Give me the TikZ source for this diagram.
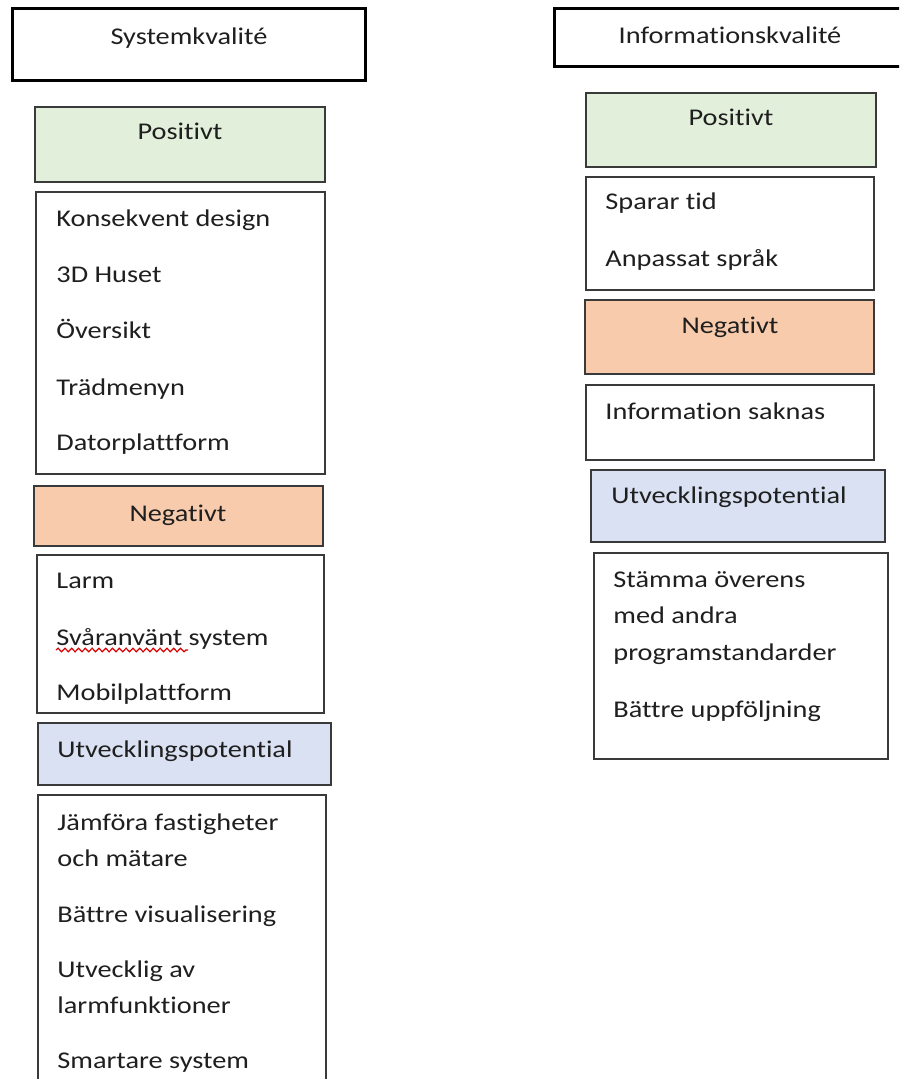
\documentclass[tikz,border=0pt]{standalone}
\usepackage{fontspec}
\setmainfont{Carlito}[FakeStretch=1.18, RawFeature={-liga;-clig;-dlig}]
\usetikzlibrary{decorations.pathmorphing}
\definecolor{txt}{HTML}{1F1F1F}
\definecolor{edge}{HTML}{3A3A3A}
\definecolor{posfill}{HTML}{E2EFDA}
\definecolor{negfill}{HTML}{F8CBAD}
\definecolor{devfill}{HTML}{D9E1F2}
\tikzset{
  titlebox/.style={draw=black, line width=1.5pt},
  listbox/.style={draw=edge, line width=0.75pt, fill=white},
  posbox/.style={draw=edge, line width=0.75pt, fill=posfill},
  negbox/.style={draw=edge, line width=0.75pt, fill=negfill},
  devbox/.style={draw=edge, line width=0.75pt, fill=devfill},
  item/.style={anchor=base west, inner sep=0pt, text=txt, font=\fontsize{12pt}{14pt}\selectfont},
  head/.style={anchor=base, inner sep=0pt, text=txt, font=\fontsize{12pt}{14pt}\selectfont},
  spell/.style={draw=red!85!black, line width=0.6pt, decorate,
    decoration={snake, amplitude=0.9pt, segment length=3.4pt}}
}
\begin{document}
\begin{tikzpicture}[x=0.5pt, y=-0.5pt]
\clip (0,0) rectangle (899,1079);
\fill[white] (0,0) rectangle (899,1079);

% ---------- Systemkvalité ----------
\draw[titlebox] (12,9) rectangle (365,81);
\node[head] (sysT) at (189,45) {Systemkvalité};

\draw[posbox] (35,107) rectangle (325,182);
\node[head] (sysPos) at (180,140) {Positivt};

\draw[listbox] (36,192) rectangle (325,474);
\node[item] (s1) at (56,227) {Konsekvent design};
\node[item] (s2) at (56,283) {3D Huset};
\node[item] (s3) at (56,339) {Översikt};
\node[item] (s4) at (56,395) {Trädmenyn};
\node[item] (s5) at (56,450) {Datorplattform};

\draw[negbox] (34,486) rectangle (323,546);
\node[head] (sysNeg) at (178,521) {Negativt};

\draw[listbox] (37,555) rectangle (324,713);
\node[item] (s6) at (56,588) {Larm};
\node[item] (s7) at (56,645) {Svåranvänt system};
\node[item] (s8) at (56,700) {Mobilplattform};
\coordinate (sqA) at (56,650);
\coordinate (sqB) at (188,650);
\draw[spell] (sqA) -- (sqB);

\draw[devbox] (38,723) rectangle (331,785);
\node[item] (sysDev) at (57,757) {Utvecklingspotential};

\draw[listbox] (38,795) rectangle (326,1100);
\node[item] (s9) at (57,830) {Jämföra fastigheter};
\node[item] (s10) at (57,866) {och mätare};
\node[item] (s11) at (57,922) {Bättre visualisering};
\node[item] (s12) at (57,977) {Utvecklig av};
\node[item] (s13) at (57,1013) {larmfunktioner};
\node[item] (s14) at (57,1068) {Smartare system};

% ---------- Informationskvalité ----------
\draw[titlebox] (554,9) rectangle (910,67);
\node[head] (infT) at (730,44) {Informationskvalité};

\draw[posbox] (586,93) rectangle (876,167);
\node[head] (infPos) at (731,126) {Positivt};

\draw[listbox] (586,177) rectangle (874,290);
\node[item] (i1) at (605,210) {Sparar tid};
\node[item] (i2) at (605,267) {Anpassat språk};

\draw[negbox] (585,300) rectangle (874,374);
\node[head] (infNeg) at (730,334) {Negativt};

\draw[listbox] (586,385) rectangle (874,460);
\node[item] (i3) at (605,419) {Information saknas};

\draw[devbox] (591,470) rectangle (885,542);
\node[item] (infDev) at (611,503) {Utvecklingspotential};

\draw[listbox] (594,553) rectangle (888,759);
\node[item] (i4) at (613,587) {Stämma överens};
\node[item] (i5) at (613,623) {med andra};
\node[item] (i6) at (613,660) {programstandarder};
\node[item] (i7) at (613,717) {Bättre uppföljning};
\end{tikzpicture}
\end{document}
